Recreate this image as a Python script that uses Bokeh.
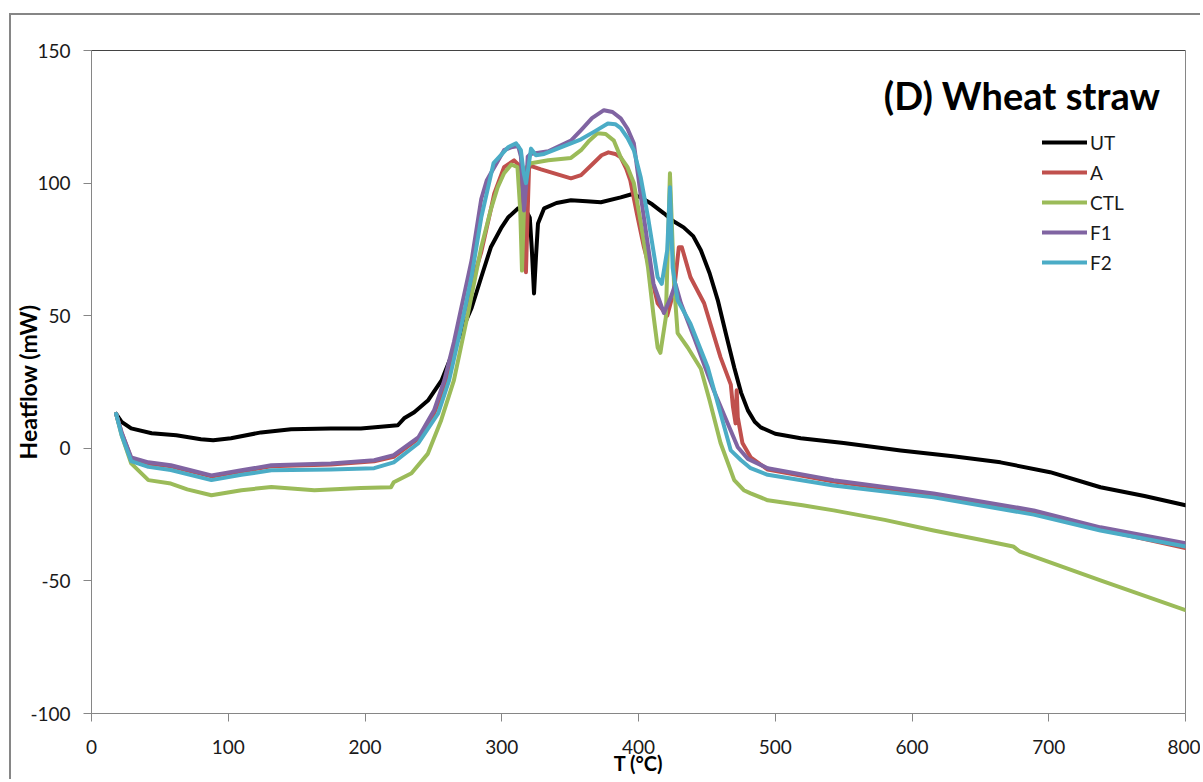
from bokeh.plotting import figure
from bokeh.models import (Legend, LegendItem, Label, Span, FixedTicker, Range1d,
                          PrintfTickFormatter)
from bokeh.embed import file_html
from bokeh.resources import INLINE

# ---------------- data ----------------
series_names = ["UT", "A", "CTL", "F1", "F2"]
series_colors = ["#000000", "#C0504D", "#9BBB59", "#8064A2", "#4BACC6"]

ut_t = [18, 22, 29, 44, 62, 80, 89, 102, 124, 146, 175, 197, 224, 228.6, 236, 246, 256,
        268, 278, 285, 292, 299.5, 304.6, 312, 318, 320.5, 322, 323.6, 325, 326.5, 331,
        340, 350.6, 362, 372.5, 387, 395, 401.7, 410, 418.6, 425, 433, 440, 445.6, 452,
        458, 464, 470, 475, 480, 485, 489.4, 500, 518.6, 550, 591.7, 630, 664.7, 701,
        737.8, 770, 800]
ut_y = [13, 10, 7.5, 5.7, 4.9, 3.4, 3, 3.8, 6, 7.2, 7.5, 7.5, 8.7, 11.3, 13.6, 18, 25.6,
        41, 53, 64.5, 75.8, 83, 87, 90.5, 89.5, 87, 75, 58.4, 72, 84.8, 90.5,
        92.5, 93.5, 93.2, 92.8, 94.6, 95.8, 94.6, 92, 88.6, 85.8, 83.3, 80, 74.7, 66,
        55.8, 43, 30.5, 21, 14.3, 10, 7.9, 5.5, 3.8, 2.0, -0.8, -3, -5.3, -9,
        -14.7, -18, -21.5]

a_t = [18, 22, 29, 41.6, 58, 87.7, 109.6, 131.5, 175, 206.7, 221, 239, 250, 260, 270,
       278, 285, 292, 294.5, 301.7, 309, 314, 316.5, 317.7, 319, 320, 328.7, 350.6, 358,
       367, 373, 378, 383, 387, 391, 394, 399, 404, 407, 414, 421, 426, 429.5, 431.7, 438,
       448, 460, 467.5, 469, 471, 471.8, 472.6, 476, 482, 494.5, 542.7, 615.8, 689,
       737.8, 800]
a_y = [13, 6, -3.8, -5.7, -6.8, -10.6, -8.7, -6.8, -6.1, -4.9, -3.2, 3.6, 12.5, 25.6, 46,
       62, 74, 90, 96, 106, 108.6, 106, 85, 66.4, 90, 106.7, 105.2, 101.8, 103,
       107.5, 110.5, 111.6, 111, 109.7, 105.5, 101, 88, 75.8, 70, 54.7, 50, 59.6, 75.8,
       75.8, 64.5, 54.7, 34.3, 24, 16, 9.4, 21.9, 11.7, 2, -3.4, -8, -12.5, -17.6,
       -24, -30.5, -37.6]

ctl_t = [18, 22, 29, 41.6, 58, 70, 87.7, 109.6, 131.5, 163, 197, 219, 221, 234, 246,
         255.7, 265, 275, 285, 292, 297, 301.7, 307, 311.5, 313.5, 314.8, 316.2, 318,
         321.4, 334, 350.6, 358, 364, 370, 376, 382, 387, 392, 396.6, 401.7, 407, 411,
         414, 416, 420, 423, 426, 428.6, 436, 445.6, 452, 460, 470, 477, 482, 494.5, 520,
         542.7, 580, 615.8, 650, 674, 679, 737.8, 800]
ctl_y = [13, 5, -5.7, -12, -13.3, -15.5, -17.7, -15.8, -14.6, -15.8, -15, -14.7, -12.8, -9.4, -2,
         10.6, 25.6, 50, 75.8, 90, 98.4, 103.7, 107, 106, 90, 67, 90, 106,
         107.5, 108.6, 109.5, 112.4, 116, 118.8, 118.5, 116, 109.7, 106, 100, 85, 68, 50,
         38, 36, 49.4, 103.7, 62, 43.4, 38, 30, 18, 2, -12, -15.8, -17, -19.6, -21.5,
         -23.4, -27, -31, -34.5, -37, -39, -49.8, -61]

f1_t = [18, 22, 29, 41.6, 58, 87.7, 109.6, 131.5, 175, 206.7, 221, 239, 250.5, 258, 265,
        270, 278, 285, 289, 292, 301.7, 306.8, 312, 314, 316.3, 318, 319, 321, 334, 350.6,
        358, 366, 374.7, 381, 387, 392, 396.6, 401.7, 411, 418.6, 423.7, 427, 431, 440.5,
        455, 472.6, 480, 494.5, 542.7, 615.8, 689, 737.8, 800]
f1_y = [13, 6, -3.4, -5.3, -6.4, -10.2, -8.3, -6.4, -5.7, -4.5, -2.6, 4.1, 14.3, 25.6, 40,
        52, 71, 94, 101, 103.7, 112.4, 113.5, 114, 110, 89.7, 100, 110, 111, 112, 116,
        120, 124.5, 127.5, 126.8, 124.4, 120.5, 115, 95, 62, 51, 57, 62, 54.7, 42,
        21.9, 0.4, -4, -7.5, -12, -17, -23.4, -29.8, -35.8]

f2_t = [18, 22, 29, 41.6, 58, 87.7, 109.6, 131.5, 175, 206.7, 221, 239, 253.5, 261.5, 270,
        278, 285, 294, 304.6, 310.5, 314, 316, 317.7, 319.5, 321.4, 325, 331, 350.6, 358,
        368, 377.6, 383, 387, 392, 396.6, 401.7, 407, 414, 417, 421, 423, 425, 428.6, 438,
        450.7, 467.5, 475, 482, 494.5, 542.7, 615.8, 689, 737.8, 800]
f2_y = [13, 5, -4.8, -7, -8.2, -12, -10, -8.3, -8, -7.5, -5.3, 1.9, 13.2, 25.6, 45,
        65, 87, 107.5, 113.5, 115, 112.4, 104, 100, 106, 113, 110.5, 111, 115, 116.5,
        119.5, 122.5, 122.2, 120.7, 117, 112.4, 102, 87, 64.5, 62, 74.7, 98.4, 68, 55.8, 47,
        30.5, -0.8, -4.5, -7.5, -10, -14, -18.5, -25, -31, -37]

x_ticks = [0, 100, 200, 300, 400, 500, 600, 700, 800]
y_ticks = [-100, -50, 0, 50, 100, 150]

FONT = "Lato"
GRAY = "#868686"

p = figure(width=1191, height=766,
           min_border_left=79, min_border_right=17, min_border_top=35, min_border_bottom=68,
           x_range=Range1d(0, 800), y_range=Range1d(-100, 150),
           output_backend="svg", toolbar_location=None, tools="")
# outer chart border (its right and bottom edges lie outside the window in the reference)
p.styles = {"margin-left": "9px", "margin-top": "13px",
            "border-left": "2px solid " + GRAY, "border-top": "2px solid " + GRAY}

p.xgrid.visible = False
p.ygrid.visible = False
p.outline_line_color = GRAY
p.outline_line_width = 1
p.background_fill_color = "white"
p.border_fill_color = "white"

for ax in (p.xaxis[0], p.yaxis[0]):
    ax.axis_line_color = GRAY
    ax.major_tick_line_color = GRAY
    ax.minor_tick_line_color = None
    ax.major_tick_in = 0
    ax.major_tick_out = 8
    ax.major_label_text_font = FONT
    ax.major_label_text_font_size = "19px"
    ax.major_label_text_color = "#1a1a1a"
    ax.axis_label_text_font = FONT
    ax.axis_label_text_font_style = "bold"
    ax.axis_label_text_color = "#000000"
    ax.formatter = PrintfTickFormatter(format="%d")

p.xaxis.ticker = FixedTicker(ticks=x_ticks)
p.yaxis.ticker = FixedTicker(ticks=y_ticks)
p.xaxis.major_label_standoff = 18
p.yaxis.major_label_standoff = 13
p.yaxis.axis_label = "Heatflow (mW)"
p.yaxis.axis_label_text_font_size = "23px"
p.yaxis.axis_label_standoff = -15
p.xaxis.axis_label = "T (°C)"
p.xaxis.axis_label_text_font_size = "20px"
p.xaxis.axis_label_standoff = -6

# plot-area top edge
p.add_layout(Span(location=150, dimension="width", line_color="#000000", line_width=1))

all_t = [ut_t, a_t, ctl_t, f1_t, f2_t]
all_y = [ut_y, a_y, ctl_y, f1_y, f2_y]
items = []
for name, col, tt, yy in zip(series_names, series_colors, all_t, all_y):
    r = p.line(tt, yy, line_color=col, line_width=4, line_join="round", line_cap="round")
    items.append(LegendItem(label=name, renderers=[r]))

legend = Legend(items=items, location=(951, 436), orientation="vertical",
                padding=0, margin=0, spacing=0, glyph_height=30, glyph_width=45,
                label_height=30, label_standoff=3, border_line_color=None,
                background_fill_alpha=0, label_text_font=FONT,
                label_text_font_size="19px", label_text_color="#1a1a1a")
p.add_layout(legend)

title = Label(x=579.4, y=133.2, text="(D) Wheat straw", text_font=FONT,
              text_font_style="bold", text_font_size="38px", text_color="#000000",
              text_baseline="middle", text_align="left")
p.add_layout(title)

open("out.html", "w").write(file_html(p, INLINE))
